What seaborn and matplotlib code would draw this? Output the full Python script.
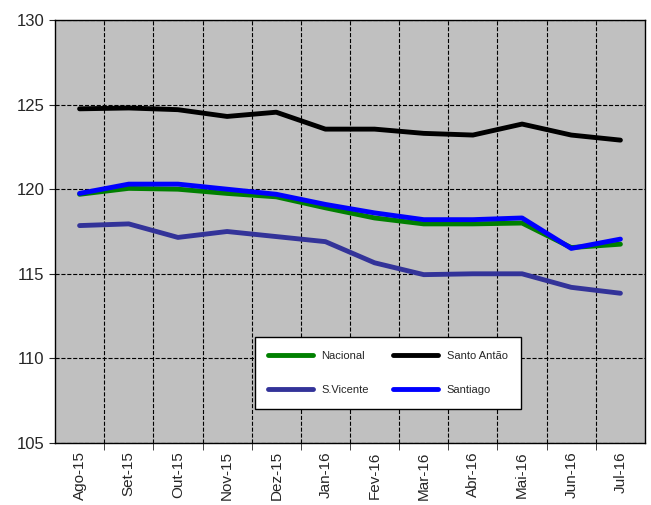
import numpy as np
import pandas as pd
import matplotlib
matplotlib.use('Agg')
import matplotlib.pyplot as plt
import seaborn as sns

meses = ['Ago-15', 'Set-15', 'Out-15', 'Nov-15', 'Dez-15', 'Jan-16', 'Fev-16',
         'Mar-16', 'Abr-16', 'Mai-16', 'Jun-16', 'Jul-16']
nacional = [119.7, 120.05, 120.0, 119.75, 119.55, 118.9, 118.3, 117.95, 117.95, 118.0, 116.55, 116.75]
santo_antao = [124.75, 124.8, 124.7, 124.3, 124.55, 123.55, 123.55, 123.3, 123.2, 123.85, 123.2, 122.9]
s_vicente = [117.85, 117.95, 117.15, 117.5, 117.2, 116.9, 115.65, 114.95, 115.0, 115.0, 114.2, 113.85]
santiago = [119.75, 120.3, 120.3, 120.0, 119.7, 119.1, 118.6, 118.2, 118.2, 118.3, 116.5, 117.05]

series = [('Nacional', nacional, '#008000'), ('Santo Antão', santo_antao, '#000000'),
          ('S.Vicente', s_vicente, '#333399'), ('Santiago', santiago, '#0000FF')]

sns.set_style('white')
plt.rcParams['font.family'] = ['Liberation Sans', 'DejaVu Sans']

fig = plt.figure(figsize=(6.51, 5.05), dpi=100)
ax = fig.add_axes([55/651, 1-443/505, 590/651, 423/505])
ax.set_facecolor('#c0c0c0')

x = np.arange(len(meses))
for nome, vals, cor in series:
    sns.lineplot(x=x, y=vals, color=cor, linewidth=3.5, label=nome, ax=ax)

ax.set_xlim(-0.5, len(meses) - 0.5)
ax.set_ylim(105, 130)
ax.set_yticks(range(105, 131, 5))
ax.set_xticks(x)
ax.set_xticklabels(meses, rotation=90, fontsize=11)
ax.tick_params(axis='y', labelsize=12, length=4, direction='out', left=True)
ax.tick_params(axis='x', length=0, pad=6)
ax.set_xticks(np.arange(0.5, len(meses) - 1, 1), minor=True)
ax.tick_params(axis='x', which='minor', length=5, bottom=True)
ax.grid(True, which='minor', axis='x', color='black', linestyle='--', linewidth=0.8)
ax.grid(True, which='major', axis='y', color='black', linestyle='--', linewidth=0.8)
for s in ax.spines.values():
    s.set_color('black')
    s.set_linewidth(1)

h, l = ax.get_legend_handles_labels()
ordem = [0, 2, 1, 3]
leg = ax.legend([h[i] for i in ordem], [l[i] for i in ordem],
                loc='center', bbox_to_anchor=((388 - 55) / 590, (443 - 373) / 423), ncol=2,
                fontsize=8, frameon=True, fancybox=False, edgecolor='black',
                facecolor='white', framealpha=1, handlelength=4, columnspacing=2.2,
                labelspacing=2.2, borderpad=1.2)
leg.get_frame().set_linewidth(1)

fig.savefig('out.png', dpi=100)
